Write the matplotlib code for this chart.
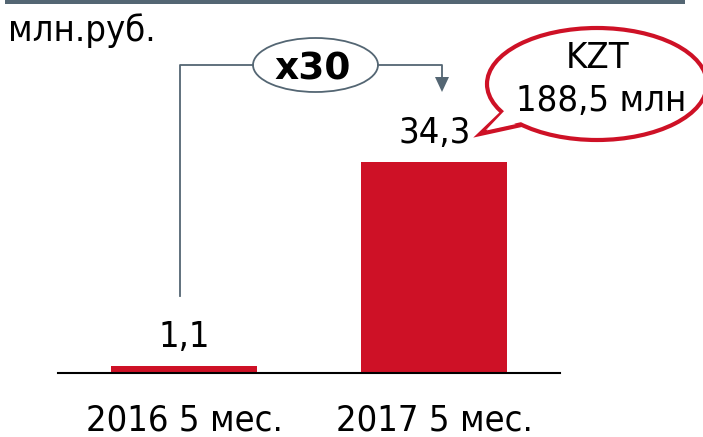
import numpy as np
import matplotlib
matplotlib.use("Agg")
import matplotlib.pyplot as plt
from matplotlib.patches import Ellipse, Polygon, Rectangle

# ========================================================= #
# ===  data                                             === #
# ========================================================= #
categories = ["2016 5 мес.", "2017 5 мес."]
values     = [1.1, 34.3]
labels     = ["1,1", "34,3"]
unit_label = "млн.руб."
ratio_text = "x30"
bubble_l1  = "KZT"
bubble_l2  = "188,5 млн"

red   = "#CE1126"
gray  = "#546673"
plt.rcParams["font.family"]  = ["DejaVu Sans"]
plt.rcParams["font.stretch"] = "condensed"
fs = 26

# ------------------------------------------------- #
# --- [1] figure / axes                         --- #
# ------------------------------------------------- #
W, H = 703, 437
fig = plt.figure(figsize=(W/100, H/100), dpi=100)
ax  = fig.add_axes([58/W, 64/H, 502/W, 373/H])
x   = np.arange(len(categories))
ax.bar(x, values, width=0.584, color=red, zorder=2)
ax.set_xlim(-0.504, 1.502)
ax.set_ylim(0, 373/6.152)
for s in ["top", "right", "left"]:
    ax.spines[s].set_visible(False)
ax.spines["bottom"].set_color("black")
ax.spines["bottom"].set_linewidth(1.5)
ax.set_yticks([])
ax.set_xticks([])
for xi, v, lab, cat in zip(x, values, labels, categories):
    ax.annotate(lab, (xi, v), xytext=(0, 14), textcoords="offset points",
                ha="center", va="baseline", fontsize=fs)
    ax.annotate(cat, (xi, 0), xycoords=("data", "axes fraction"),
                xytext=(0, -41.5), textcoords="offset points",
                ha="center", va="baseline", fontsize=fs)

# ------------------------------------------------- #
# --- [2] decorations (pixel coords overlay)    --- #
# ------------------------------------------------- #
ov = fig.add_axes([0, 0, 1, 1], facecolor="none")
ov.set_xlim(0, W)
ov.set_ylim(H, 0)
ov.axis("off")

ov.add_patch(Rectangle((5, 0), 680, 4, color=gray, lw=0))
ov.text(8, 41, unit_label, fontsize=fs, ha="left", va="baseline")

# ratio connector
ov.plot([180, 180, 253], [296, 65, 65], color=gray, lw=1.3)
ov.plot([378, 442, 442], [65, 65, 80], color=gray, lw=1.3)
ov.add_patch(Polygon([[435, 77], [449, 77], [442, 92]], color=gray, lw=0))
ov.add_patch(Ellipse((315.5, 65), 125, 54, facecolor="white",
                     edgecolor=gray, lw=1.3))
ov.text(313, 80, ratio_text, fontsize=27, fontweight="bold",
        fontstretch="normal", ha="center", va="baseline")

# speech bubble
ov.add_patch(Polygon([[505, 110], [480, 134], [535, 122]],
                     facecolor="white", edgecolor=red, lw=3, joinstyle="miter"))
ov.add_patch(Ellipse((597, 84), 220, 112, facecolor="white",
                     edgecolor=red, lw=3))
ov.add_patch(Polygon([[507, 108], [486, 130], [535, 119]],
                     facecolor="white", edgecolor="none"))
ov.text(598, 68, bubble_l1, fontsize=fs, ha="center", va="baseline")
ov.text(601, 111, bubble_l2, fontsize=fs, ha="center", va="baseline")

fig.savefig("out.png", dpi=100)
